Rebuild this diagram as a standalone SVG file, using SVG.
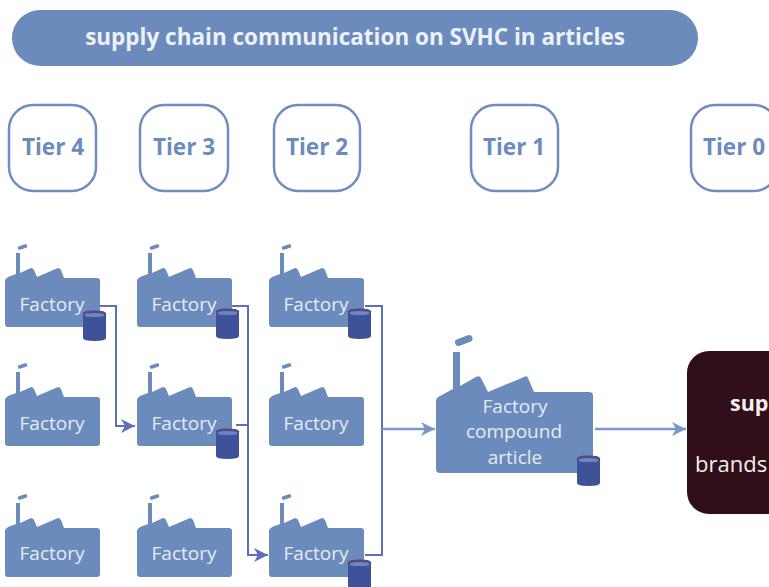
<svg xmlns="http://www.w3.org/2000/svg" width="769" height="587" viewBox="0 0 769 587">
<style>
.t{font-family:"Open Sans","Noto Sans",sans-serif}
.tier{fill:#fff;stroke:#6f8dc0;stroke-width:2.5}
.tl{font-size:22.500px;font-weight:700;fill:#6b8bbd;text-anchor:middle}
.f{font-size:19px;fill:#e6ecf5;text-anchor:middle}
.fa{fill:#6b8bbd}
.c1{fill:none;stroke:#5e6fb8;stroke-width:2}
.c2{fill:none;stroke:#7b97c8;stroke-width:2.500}
</style>
<defs>
<g id="fs">
<path class="fa" d="M2 0 Q0 1 0 3 V46 Q0 49 3 49 H92 Q95 49 95 46 V3 Q95 0 92 0 H59 L56 -8 Q55 -10 53 -10 L32 -1 L29 -8 Q28 -10 26 -10 L15 -5 H11 V-4 L3 -1 Z"/>
<rect class="fa" x="11" y="-25" width="4" height="21"/>
<path d="M14.500 -30 L20.500 -32" stroke="#6b8bbd" stroke-width="3.500" stroke-linecap="round" fill="none"/>
</g>
<g id="cyl">
<path d="M0 3 Q0 0 11.500 0 Q23 0 23 3 V27 Q23 30 11.500 30 Q0 30 0 27 Z" fill="#3d5298"/>
<path d="M2 3.500 Q2 2 11.500 2 Q21 2 21 3.500 V5 Q21 6 11.500 6 Q2 6 2 5 Z" fill="#6f86bd"/>
<path d="M0 3 Q0 0 11.500 0 Q23 0 23 3" fill="none" stroke="#7a3a5c" stroke-width="1"/>
</g>
<marker id="a1" markerUnits="userSpaceOnUse" markerWidth="15" markerHeight="14" refX="14" refY="7" orient="auto"><path d="M0 0 L14 7 L0 14 L4 7 Z" fill="#5e6fb8"/></marker>
<marker id="a2" markerUnits="userSpaceOnUse" markerWidth="15" markerHeight="14" refX="14" refY="7" orient="auto"><path d="M0 0 L14 7 L0 14 L4 7 Z" fill="#7b97c8"/></marker>
</defs>

<g id="banner"><rect x="12" y="10" width="686" height="56" rx="28" fill="#6b8bbd"/>
<text class="t" x="355" y="45" font-size="22.500" font-weight="700" fill="#edf1f8" text-anchor="middle">supply chain communication on SVHC in articles</text></g>

<g id="tier4"><rect class="tier" x="9" y="105" width="87" height="86" rx="24"/><text class="t tl" x="53" y="155">Tier 4</text></g>
<g id="tier3"><rect class="tier" x="140" y="105" width="88" height="86" rx="24"/><text class="t tl" x="184" y="155">Tier 3</text></g>
<g id="tier2"><rect class="tier" x="274" y="105" width="86" height="86" rx="24"/><text class="t tl" x="317" y="155">Tier 2</text></g>
<g id="tier1"><rect class="tier" x="471" y="105" width="87" height="86" rx="24"/><text class="t tl" x="514" y="155">Tier 1</text></g>
<g id="tier0"><rect class="tier" x="691" y="105" width="87" height="86" rx="24"/><text class="t tl" x="734" y="155">Tier 0</text></g>

<g id="connectors">
<path class="c1" d="M100 306 H116 V426 H135" marker-end="url(#a1)"/>
<path class="c1" d="M232 306 H248 V555 H268" marker-end="url(#a1)"/>
<path class="c1" d="M236 425 H248"/>
<path class="c1" d="M365 306 H382 V555 H365"/>
<path class="c2" d="M382 429 H435" marker-end="url(#a2)"/>
<path class="c2" d="M595 429 H686" marker-end="url(#a2)"/>
</g>

<g id="f41"><use href="#fs" x="5" y="278"/><text class="t f" x="52" y="311">Factory</text><use href="#cyl" x="83" y="311"/></g>
<g id="f42"><use href="#fs" x="5" y="397"/><text class="t f" x="52" y="430">Factory</text></g>
<g id="f43"><use href="#fs" x="5" y="528"/><text class="t f" x="52" y="560">Factory</text></g>
<g id="f31"><use href="#fs" x="137" y="278"/><text class="t f" x="184" y="311">Factory</text><use href="#cyl" x="216" y="309"/></g>
<g id="f32"><use href="#fs" x="137" y="397"/><text class="t f" x="184" y="430">Factory</text><use href="#cyl" x="216" y="429"/></g>
<g id="f33"><use href="#fs" x="137" y="528"/><text class="t f" x="184" y="560">Factory</text></g>
<g id="f21"><use href="#fs" x="269" y="278"/><text class="t f" x="316" y="311">Factory</text><use href="#cyl" x="348" y="309"/></g>
<g id="f22"><use href="#fs" x="269" y="397"/><text class="t f" x="316" y="430">Factory</text></g>
<g id="f23"><use href="#fs" x="269" y="528"/><text class="t f" x="316" y="560">Factory</text><use href="#cyl" x="348" y="560"/></g>

<g id="f1">
<path class="fa" d="M440 396 Q436 398 436 401 V469 Q436 473 440 473 H589 Q593 473 593 469 V396 Q593 392 589 392 H534 L528 378 Q527 375 524 377 L488 392 L481 378 Q479 375 476 377 L460 386 H453 V389 Z"/>
<rect class="fa" x="453" y="352" width="7" height="37"/>
<path d="M458.500 342.500 L469 338.500" stroke="#6b8bbd" stroke-width="7" stroke-linecap="round" fill="none"/>
<text class="t f" x="515" y="413">Factory</text><text class="t f" x="514" y="438">compound</text><text class="t f" x="515" y="464">article</text>
<use href="#cyl" x="577" y="456"/>
</g>

<g id="tier0box"><rect x="687" y="351" width="110" height="163" rx="22" fill="#300f18"/>
<text class="t" x="730" y="411" font-size="21.500" font-weight="700" fill="#f4eef0">sup</text>
<text class="t" x="695" y="472" font-size="22" fill="#f4eef0">brands</text></g>
</svg>
